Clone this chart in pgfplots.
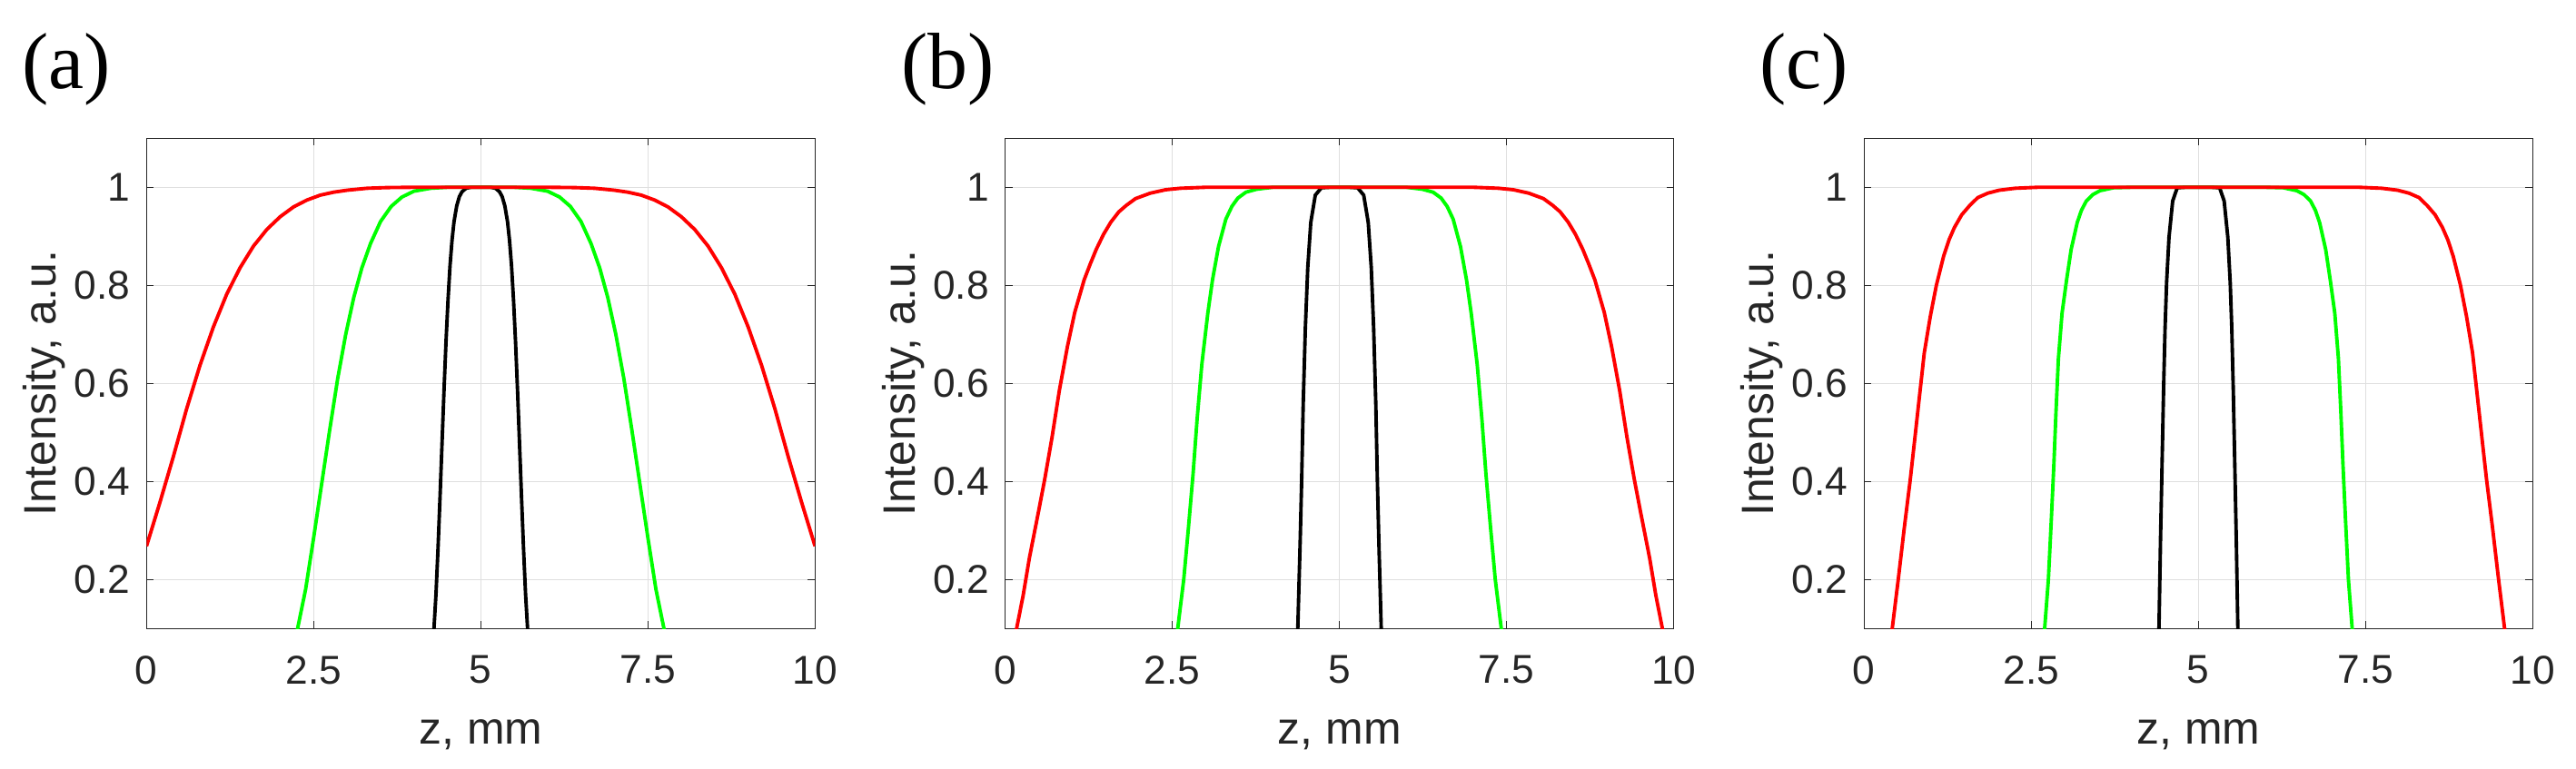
\documentclass[border=0pt]{standalone}
\usepackage{fontspec}
\setmainfont{Liberation Sans}
\newfontfamily\panelfont{Liberation Serif}
\usepackage{pgfplots}
\pgfplotsset{compat=1.18}
\definecolor{axgray}{HTML}{262626}
\definecolor{gridgray}{HTML}{DFDFDF}
\definecolor{mgreen}{HTML}{00FF00}
\definecolor{mred}{HTML}{FF0000}
\newcommand{\tickfont}{\fontsize{12.6pt}{15pt}\selectfont}
\newcommand{\labelfont}{\fontsize{14.2pt}{17pt}\selectfont}

\pgfplotsset{
  every tick label/.append style={font=\tickfont, text=axgray, inner sep=0pt},
  every axis label/.append style={font=\labelfont, text=axgray, inner sep=0pt},
  panel/.style={
    scale only axis, width=7.36cm, height=5.40cm, anchor=south west,
    xmin=0, xmax=10, ymin=0.1, ymax=1.1,
    xtick={0,2.5,5,7.5,10}, ytick={0.2,0.4,0.6,0.8,1},
    tick align=inside, major tick length=0.08cm,
    grid=major, major grid style={gridgray, line width=0.3pt},
    axis line style={axgray, line width=0.4pt},
    tick style={axgray, line width=0.4pt},
    /pgf/number format/assume math mode=true,
    xticklabel style={font=\tickfont, anchor=north, yshift=-0.294cm},
    yticklabel style={font=\tickfont, anchor=east, xshift=-0.173cm},
    every axis x label/.style={at={(axis description cs:0.5,0)}, yshift=-1.277cm,
      anchor=base, font=\labelfont, text=axgray, inner sep=0pt},
    every axis y label/.style={at={(axis description cs:0,0.5)}, xshift=-0.996cm,
      rotate=90, anchor=base, font=\labelfont, text=axgray, inner sep=0pt},
    xlabel={z, mm}, ylabel={Intensity, a.u.},
  },
  curve/.style={line width=1.1pt, no markers},
}
\tikzset{tag/.style={anchor=base west, inner sep=0pt, font=\fontsize{25}{30}\selectfont\panelfont}}

\begin{document}
\begin{tikzpicture}
\path[use as bounding box] (0,0) rectangle (28.36cm,8.47cm);

% (a)
\begin{axis}[panel, at={(1.613cm,1.547cm)}]
\addplot[curve, black] coordinates {
(4.28,0.065)(4.30,0.100)(4.33,0.170)(4.36,0.262)(4.39,0.366)(4.42,0.476)
(4.45,0.585)(4.48,0.685)(4.51,0.770)(4.54,0.840)(4.57,0.892)(4.60,0.930)
(4.64,0.962)(4.68,0.981)(4.72,0.991)(4.78,0.998)(4.85,1.000)
(5.15,1.000)(5.22,0.998)(5.28,0.991)(5.32,0.981)(5.36,0.962)(5.40,0.930)
(5.43,0.892)(5.46,0.840)(5.49,0.770)(5.52,0.685)(5.55,0.585)(5.58,0.476)
(5.61,0.366)(5.64,0.262)(5.67,0.170)(5.70,0.100)(5.72,0.065)
};
\addplot[curve, mgreen] coordinates {
(2.20,0.058)(2.26,0.100)(2.38,0.180)(2.50,0.285)(2.62,0.395)(2.74,0.505)
(2.86,0.610)(2.98,0.700)(3.10,0.775)(3.22,0.835)(3.35,0.885)(3.50,0.930)
(3.66,0.961)(3.82,0.980)(4.00,0.992)(4.25,0.998)(4.50,1.000)
(5.50,1.000)(5.75,0.998)(6.00,0.992)(6.18,0.980)(6.34,0.961)(6.50,0.930)
(6.65,0.885)(6.78,0.835)(6.90,0.775)(7.02,0.700)(7.14,0.610)(7.26,0.505)
(7.38,0.395)(7.50,0.285)(7.62,0.180)(7.74,0.100)(7.80,0.058)
};
\addplot[curve, mred] coordinates {
(0.00,0.268)(0.20,0.357)(0.40,0.450)(0.60,0.548)(0.80,0.637)(1.00,0.715)
(1.20,0.782)(1.40,0.836)(1.60,0.880)(1.80,0.914)(2.00,0.940)(2.20,0.960)
(2.40,0.974)(2.60,0.984)(2.80,0.990)(3.00,0.994)(3.30,0.998)(3.60,0.9994)
(4.00,1.000)(6.00,1.000)
(6.40,0.9994)(6.70,0.998)(7.00,0.994)(7.20,0.990)(7.40,0.984)(7.60,0.974)
(7.80,0.960)(8.00,0.940)(8.20,0.914)(8.40,0.880)(8.60,0.836)(8.80,0.782)
(9.00,0.715)(9.20,0.637)(9.40,0.548)(9.60,0.450)(9.80,0.357)(10.00,0.268)
};
\end{axis}

% (b)
\begin{axis}[panel, at={(11.067cm,1.547cm)}]
\addplot[curve, black] coordinates {
(4.355,0.000)(4.376,0.100)(4.412,0.280)(4.434,0.404)(4.457,0.558)(4.489,0.712)
(4.525,0.836)(4.570,0.928)(4.638,0.984)(4.730,0.999)(4.850,1.000)
(5.150,1.000)(5.270,0.999)(5.362,0.984)(5.430,0.928)(5.475,0.836)(5.511,0.712)
(5.543,0.558)(5.566,0.404)(5.588,0.280)(5.624,0.100)(5.645,0.000)
};
\addplot[curve, mgreen] coordinates {
(2.52,0.035)(2.58,0.100)(2.67,0.200)(2.74,0.305)(2.81,0.416)(2.87,0.527)
(2.94,0.638)(3.03,0.743)(3.10,0.811)(3.19,0.879)(3.30,0.935)(3.39,0.961)
(3.48,0.978)(3.60,0.990)(3.76,0.996)(4.00,1.000)
(6.00,1.000)(6.24,0.996)(6.40,0.990)(6.52,0.978)(6.61,0.961)(6.70,0.935)
(6.81,0.879)(6.90,0.811)(6.97,0.743)(7.06,0.638)(7.13,0.527)(7.19,0.416)
(7.26,0.305)(7.33,0.200)(7.42,0.100)(7.48,0.035)
};
\addplot[curve, mred] coordinates {
(0.10,0.050)(0.17,0.100)(0.27,0.169)(0.36,0.243)(0.50,0.340)(0.59,0.404)
(0.70,0.490)(0.81,0.586)(0.93,0.675)(1.04,0.745)(1.18,0.811)(1.27,0.843)
(1.36,0.873)(1.47,0.904)(1.58,0.929)(1.70,0.950)(1.81,0.963)(1.95,0.977)
(2.17,0.988)(2.40,0.995)(2.62,0.998)(3.00,1.000)
(7.00,1.000)(7.38,0.998)(7.60,0.995)(7.83,0.988)(8.05,0.977)(8.19,0.963)
(8.30,0.950)(8.42,0.929)(8.53,0.904)(8.64,0.873)(8.73,0.843)(8.82,0.811)
(8.96,0.745)(9.07,0.675)(9.19,0.586)(9.30,0.490)(9.41,0.404)(9.50,0.340)
(9.64,0.243)(9.73,0.169)(9.83,0.100)(9.90,0.050)
};
\end{axis}

% (c)
\begin{axis}[panel, at={(20.523cm,1.547cm)}]
\addplot[curve, black] coordinates {
(4.395,0.000)(4.410,0.100)(4.433,0.280)(4.456,0.435)(4.479,0.589)(4.501,0.712)
(4.524,0.805)(4.560,0.898)(4.615,0.972)(4.683,0.999)(4.800,1.000)
(5.200,1.000)(5.317,0.999)(5.385,0.972)(5.440,0.898)(5.476,0.805)(5.499,0.712)
(5.521,0.589)(5.544,0.435)(5.567,0.280)(5.590,0.100)(5.605,0.000)
};
\addplot[curve, mgreen] coordinates {
(2.660,0.020)(2.700,0.100)(2.756,0.200)(2.800,0.323)(2.838,0.435)(2.869,0.540)
(2.906,0.651)(2.960,0.743)(3.028,0.811)(3.096,0.873)(3.187,0.928)(3.250,0.953)
(3.323,0.972)(3.420,0.985)(3.527,0.993)(3.730,0.999)(4.000,1.000)
(6.000,1.000)(6.270,0.999)(6.473,0.993)(6.580,0.985)(6.677,0.972)(6.750,0.953)
(6.813,0.928)(6.904,0.873)(6.972,0.811)(7.040,0.743)(7.094,0.651)(7.131,0.540)
(7.162,0.435)(7.200,0.323)(7.244,0.200)(7.300,0.100)(7.340,0.020)
};
\addplot[curve, mred] coordinates {
(0.35,0.020)(0.42,0.100)(0.51,0.200)(0.60,0.305)(0.69,0.404)(0.76,0.490)
(0.83,0.577)(0.90,0.663)(0.99,0.737)(1.08,0.800)(1.19,0.860)(1.27,0.893)
(1.35,0.918)(1.46,0.944)(1.58,0.963)(1.70,0.979)(1.85,0.988)(2.02,0.994)
(2.26,0.998)(2.60,1.000)
(7.40,1.000)(7.74,0.998)(7.98,0.994)(8.15,0.988)(8.30,0.979)(8.42,0.963)
(8.54,0.944)(8.65,0.918)(8.73,0.893)(8.81,0.860)(8.92,0.800)(9.01,0.737)
(9.10,0.663)(9.17,0.577)(9.24,0.490)(9.31,0.404)(9.40,0.305)(9.49,0.200)
(9.58,0.100)(9.65,0.020)
};
\end{axis}

\node[tag] at (0.238cm,7.493cm) {(a)};
\node[tag] at (9.913cm,7.493cm) {(b)};
\node[tag] at (19.364cm,7.493cm) {(c)};
\end{tikzpicture}
\end{document}
